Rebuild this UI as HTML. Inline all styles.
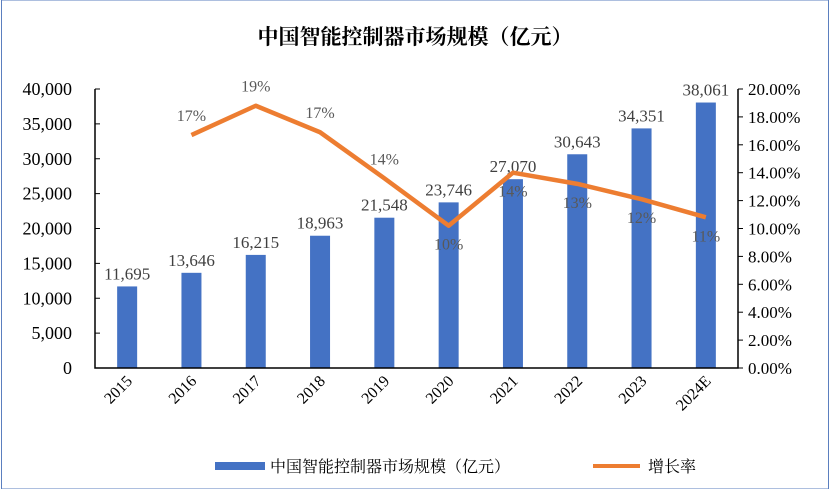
<!DOCTYPE html>
<html><head><meta charset="utf-8"><style>
body{margin:0;background:#fff;}
svg text{font-family:"Liberation Serif","Noto Serif CJK SC",serif;}
</style></head><body>
<svg width="830" height="489" xmlns="http://www.w3.org/2000/svg">
<rect x="1.5" y="0" width="827" height="489" fill="#fff" stroke="#5b7fbf" stroke-width="1"/>
<text x="415" y="44" text-anchor="middle" font-size="21" font-weight="bold" style="font-family:'Noto Serif CJK SC','Noto Sans CJK SC',serif">中国智能控制器市场规模（亿元）</text>
<g id="plot"></g>
<g>
<rect x="215" y="462" width="50" height="8" fill="#4472c4"/>
<text x="270" y="472" font-size="16" style="font-family:'Liberation Serif','Noto Serif CJK SC',serif">中国智能控制器市场规模（亿元）</text>
<line x1="593" y1="466" x2="640" y2="466" stroke="#ed7d31" stroke-width="4"/>
<text x="648" y="472" font-size="16" style="font-family:'Liberation Serif','Noto Serif CJK SC',serif">增长率</text>
</g>
</svg>
<script>
const categories=["2015","2016","2017","2018","2019","2020","2021","2022","2023","2024E"];
const marketSize=[11695,13646,16215,18963,21548,23746,27070,30643,34351,38061];
const growth=[null,16.7,18.8,16.9,13.6,10.2,14.0,13.2,12.1,10.8];
const growthLabels=[null,"17%","19%","17%","14%","10%","14%","13%","12%","11%"];
const leftTicks=[0,5000,10000,15000,20000,25000,30000,35000,40000];
const rightTicks=[0,2,4,6,8,10,12,14,16,18,20];

const NS="http://www.w3.org/2000/svg";
const g=document.getElementById('plot');
const X0=95,X1=738,Y0=368,Y1=89;
const band=(X1-X0)/categories.length;
const xc=i=>X0+band*(i+0.5);
const yL=v=>Y0-(v/40000)*(Y0-Y1);
const yR=v=>Y0-(v/20)*(Y0-Y1);
function mk(tag,attrs,text){const e=document.createElementNS(NS,tag);for(const k in attrs)e.setAttribute(k,attrs[k]);if(text!=null)e.textContent=text;g.appendChild(e);return e;}
const fmt=v=>v.toLocaleString('en-US');

categories.forEach((c,i)=>{
  const b=mk('rect',{x:xc(i)-10,y:yL(marketSize[i]),width:20,height:Y0-yL(marketSize[i]),fill:'#4472c4'});
  
  
  const t=mk('text',{x:xc(i),y:yL(marketSize[i])-7,'text-anchor':'middle','font-size':17,fill:'#404040'},fmt(marketSize[i]));
  
  
  const xl=mk('text',{transform:`translate(${xc(i)+6},${Y0+14}) rotate(-45)`,'text-anchor':'end','font-size':16,fill:'#000'},c);
  
  
});
const ax=mk('path',{d:`M${X0},${Y1}V${Y0}H${X1}V${Y1}`,fill:'none',stroke:'#000','stroke-width':1.5});


leftTicks.forEach(v=>{
  const tk=mk('line',{x1:X0,x2:X0+5,y1:yL(v),y2:yL(v),stroke:'#000'});
  
  
  const t=mk('text',{x:X0-23,y:yL(v)+6,'text-anchor':'end','font-size':18,fill:'#000'},fmt(v));
  
  
});
rightTicks.forEach(v=>{
  const tk=mk('line',{x1:X1,x2:X1+5,y1:yR(v),y2:yR(v),stroke:'#000'});
  
  
  const t=mk('text',{x:X1+10,y:yR(v)+6,'text-anchor':'start','font-size':17,fill:'#000'},v.toFixed(2)+'%');
  
  
});
let d='';
growth.forEach((v,i)=>{if(v==null)return;d+=(d?'L':'M')+xc(i)+','+yR(v);});
const ln=mk('path',{d:d,fill:'none',stroke:'#ed7d31','stroke-width':4.5,'stroke-linejoin':'round'});


growth.forEach((v,i)=>{
  if(v==null)return;
  const below=i>=5;
  const t=mk('text',{x:xc(i),y:below?yR(v)+24:yR(v)-14,'text-anchor':'middle','font-size':16,fill:'#595959'},growthLabels[i]);
  
  
});
</script>
</body></html>
